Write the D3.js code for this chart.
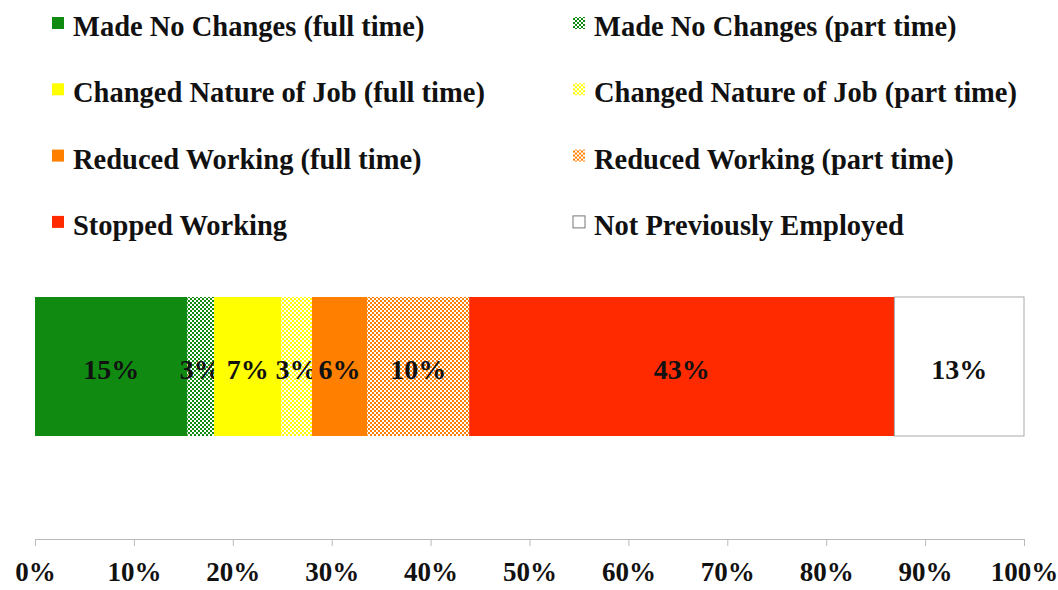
<!DOCTYPE html>
<html>
<head>
<meta charset="utf-8">
<script src="https://cdn.jsdelivr.net/npm/d3@7"></script>
<style>
  body { margin: 0; background: #fff; }
  svg text { font-family: "Liberation Serif", "Times New Roman", serif; font-weight: bold; fill: #111; }
</style>
</head>
<body>
<div id="chart"></div>
<script>
// segment names, estimated shares (%) and printed labels
var categories = [
  "Made No Changes (full time)",
  "Made No Changes (part time)",
  "Changed Nature of Job (full time)",
  "Changed Nature of Job (part time)",
  "Reduced Working (full time)",
  "Reduced Working (part time)",
  "Stopped Working",
  "Not Previously Employed"
];
var values = [15.4, 2.7, 6.8, 3.1, 5.6, 10.3, 43.0, 13.1];
var valueLabels = ["15%", "3%", "7%", "3%", "6%", "10%", "43%", "13%"];
var tickValues = [0, 10, 20, 30, 40, 50, 60, 70, 80, 90, 100];

var colors = ["#118a11", "#118a11", "#ffff00", "#ffff00", "#ff8000", "#ff8000", "#ff2a00", "#ffffff"];
var patterned = [false, true, false, true, false, true, false, false];

var width = 1058, height = 590;
var barTop = 297, barBottom = 436;
var axisY = 539;

var svg = d3.select("#chart").append("svg")
  .attr("width", width)
  .attr("height", height);

var defs = svg.append("defs");
categories.forEach(function (c, i) {
  if (!patterned[i]) return;
  var p = defs.append("pattern")
    .attr("id", "pat" + i)
    .attr("patternUnits", "userSpaceOnUse")
    .attr("width", 4)
    .attr("height", 4);
  p.append("rect").attr("width", 4).attr("height", 4).attr("fill", "#fff");
  p.append("rect").attr("width", 2).attr("height", 2).attr("fill", colors[i]);
  p.append("rect").attr("x", 2).attr("y", 2).attr("width", 2).attr("height", 2).attr("fill", colors[i]);
});

function fillFor(i) {
  return patterned[i] ? "url(#pat" + i + ")" : colors[i];
}

var x = d3.scaleLinear().domain([0, 100]).range([35, 1024]);

// stacked segments
var starts = [];
var acc = 0;
values.forEach(function (v) { starts.push(acc); acc += v; });

var segs = svg.selectAll(".seg")
  .data(values)
  .enter()
  .append("g")
  .attr("class", "seg");

segs.append("rect")
  .attr("x", function (d, i) { return x(starts[i]); })
  .attr("y", barTop)
  .attr("width", function (d, i) { return x(starts[i] + d) - x(starts[i]); })
  .attr("height", barBottom - barTop)
  .attr("fill", function (d, i) { return fillFor(i); })
  .attr("stroke", function (d, i) { return i === values.length - 1 ? "#aaa" : "none"; })
  .attr("stroke-width", 1);

segs.append("text")
  .text(function (d, i) { return valueLabels[i]; })
  .attr("x", function (d, i) { return x(starts[i] + d / 2); })
  .attr("y", 379)
  .attr("text-anchor", "middle")
  .attr("font-size", 28);

// axis
var axis = svg.append("g")
  .attr("transform", "translate(0," + axisY + ")")
  .call(d3.axisBottom(x)
    .tickValues(tickValues)
    .tickSize(7)
    .tickFormat(function (d) { return d + "%"; }));

axis.select(".domain").attr("stroke", "#bbb");
axis.selectAll(".tick line").attr("stroke", "#bbb");
axis.selectAll(".tick text")
  .attr("font-size", 27)
  .attr("fill", "#111")
  .attr("y", 23)
  .attr("dy", "0.71em")
  .style("font-family", "'Liberation Serif', 'Times New Roman', serif")
  .style("font-weight", "bold");

// legend, two columns
var legend = svg.selectAll(".legend")
  .data(categories)
  .enter()
  .append("g")
  .attr("class", "legend")
  .attr("transform", function (d, i) {
    var col = i % 2, row = Math.floor(i / 2);
    return "translate(" + (col === 0 ? 52 : 573) + "," + (26 + row * 66.3) + ")";
  });

legend.append("rect")
  .attr("x", 0)
  .attr("y", -9)
  .attr("width", 12)
  .attr("height", 12)
  .attr("fill", function (d, i) { return fillFor(i); })
  .attr("stroke", function (d, i) { return i === categories.length - 1 ? "#777" : "none"; });

legend.append("text")
  .text(function (d) { return d; })
  .attr("x", 21)
  .attr("y", 10)
  .attr("font-size", 28.5);
</script>
</body>
</html>
